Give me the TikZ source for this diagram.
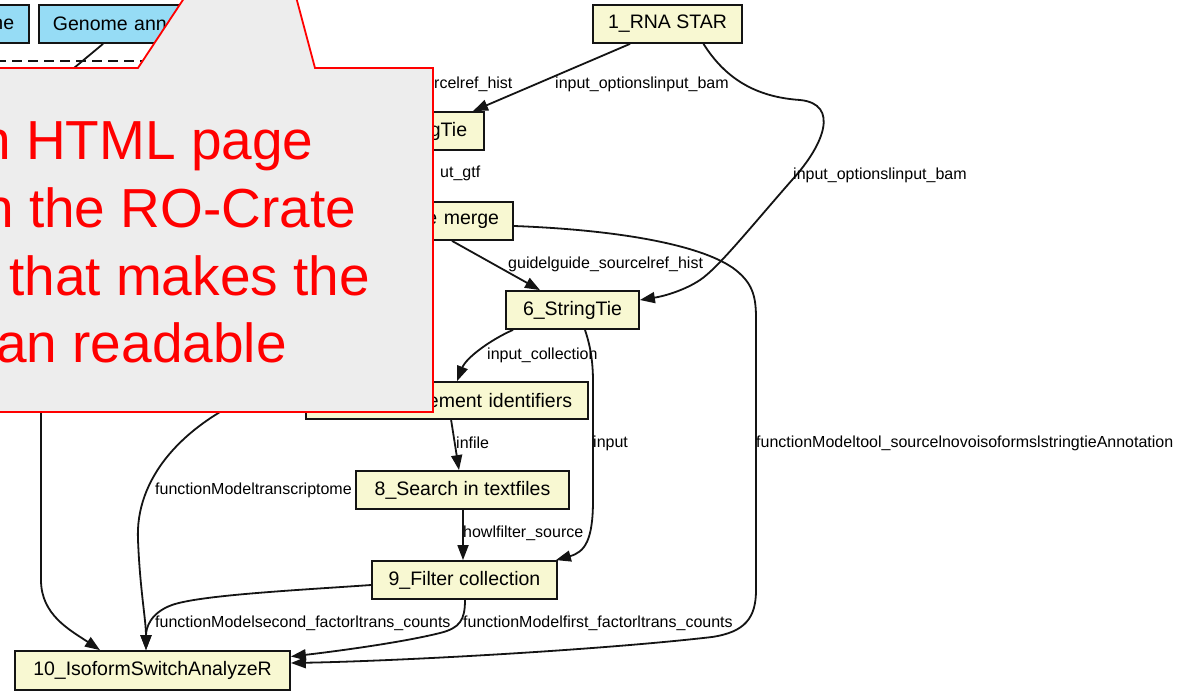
\documentclass[tikz,border=0pt]{standalone}
\usepackage{fontspec}
\setmainfont{Liberation Sans}
\usetikzlibrary{arrows.meta}
\definecolor{nodefill}{RGB}{248,248,210}
\definecolor{inputblue}{RGB}{150,220,245}
\definecolor{calloutgrey}{RGB}{237,237,237}
\definecolor{calloutred}{RGB}{255,0,0}
\definecolor{edgeblack}{RGB}{20,20,20}
\newcommand{\nodefont}{\fontsize{19.5}{23}\selectfont}
\newcommand{\lblfont}{\fontsize{16}{19}\selectfont}
\newcommand{\callfont}{\fontsize{55}{66}\selectfont}
\tikzset{
  ybox/.style={draw=edgeblack, line width=1.8pt, fill=nodefill, minimum height=38pt, inner sep=0pt, font=\nodefont},
  bbox/.style={ybox, fill=inputblue},
  elabel/.style={anchor=west, inner sep=0pt, font=\lblfont},
  conn/.style={draw=edgeblack, line width=1.8pt, -{Triangle[length=15pt,width=11pt]}},
  plainconn/.style={draw=edgeblack, line width=1.8pt},
  callout/.style={draw=calloutred, line width=1.8pt, fill=calloutgrey, line join=miter},
  calltext/.style={anchor=base west, inner sep=0pt, text=calloutred, font=\callfont},
}
\begin{document}
\begin{tikzpicture}[x=1pt, y=-1pt]
\useasboundingbox (0,0) rectangle (1182,692);
\clip (0,0) rectangle (1182,692);
\fill[white] (0,0) rectangle (1182,692);

% input cluster (partly hidden)
\draw[edgeblack, line width=1.4pt, dash pattern=on 10pt off 6pt] (-4,61) -- (220,61);
\node[bbox, anchor=east, inner xsep=15pt, text width=40pt, align=right] (ne) at (30,24) {ne};
\node[bbox, anchor=west, inner xsep=14pt, text width=194pt, align=left] (genome) at (38,24) {Genome ann};

% steps
\node[ybox, minimum width=149pt] (rna) at (667.5,24) {1\_RNA STAR};
\node[ybox, anchor=east, inner xsep=17pt, text width=91pt, align=right] (gtie) at (485,131) {gTie};
\node[ybox, anchor=east, inner xsep=14pt, text width=106pt, align=right] (merge) at (514,221) {e merge};
\node[ybox, minimum width=133pt] (six) at (572.5,310) {6\_StringTie};
\node[ybox, anchor=east, inner xsep=16pt, text width=250pt, align=right, minimum height=37pt] (ement) at (589,400.5) {ement identifiers};
\node[ybox, minimum width=213pt] (search) at (462.5,490) {8\_Search in textfiles};
\node[ybox, minimum width=185pt] (filt) at (464.5,580) {9\_Filter collection};
\node[ybox, minimum width=275pt, minimum height=39pt] (iso) at (152.5,670.5) {10\_IsoformSwitchAnalyzeR};

% hidden ends
\coordinate (genomeend) at (50,88);
\coordinate (leftsrc) at (41,350);
\coordinate (tcsrc) at (260,392);

% connectors
\draw[plainconn] ([xshift=65pt]genome.south west) -- (genomeend);
\draw[conn] ([xshift=-37.5pt]rna.south) -- ([xshift=-12pt]gtie.north east);
\draw[conn] ([xshift=36pt]rna.south) .. controls (725,78) and (755,97) .. (800,100)
   .. controls (840,104) and (824,145) .. (792,180)
   .. controls (750,228) and (718,268) .. (700,280)
   .. controls (685,290) and (665,296) .. ([yshift=10pt]six.east);
\draw[conn] ([xshift=-62pt]merge.south east) -- ([xshift=-32.5pt]six.north);
\draw[conn] ([yshift=-5pt]merge.east) .. controls (620,230) and (700,245) .. (733,268)
   .. controls (752,282) and (756,295) .. (756,318) -- (756,590)
   .. controls (756,618) and (745,632) .. (712,637)
   .. controls (600,650) and (400,661) .. ([yshift=7.5pt]iso.east);
\draw[conn] ([xshift=-59.5pt]six.south) .. controls (490,340) and (466,358) .. ([xshift=10pt]ement.north);
\draw[conn] ([xshift=12.5pt]six.south) .. controls (590,345) and (593,360) .. (593,382) -- (593,500)
   .. controls (593,540) and (585,552) .. ([xshift=-2pt]filt.north east);
\draw[conn] ([xshift=4pt]ement.south) -- ([xshift=-3.5pt]search.north);
\draw[conn] ([xshift=0.5pt]search.south) -- ([xshift=-1.5pt]filt.north);
\draw[conn] ([xshift=0.5pt]filt.south) .. controls (465,620) and (460,628) .. (440,633)
   .. controls (400,643) and (330,652) .. ([yshift=14pt]iso.east);
\draw[conn] ([yshift=-5pt]filt.west) .. controls (300,590) and (200,595) .. (172,605)
   .. controls (150,613) and (146,628) .. ([xshift=-6.5pt]iso.north);
\draw[conn] (tcsrc) .. controls (180,425) and (135,480) .. (138,540)
   .. controls (140,590) and (146,620) .. ([xshift=-6.5pt]iso.north);
\draw[conn] (leftsrc) -- (41,580) .. controls (41,615) and (70,630) .. ([xshift=-52.5pt]iso.north);

% connector labels
\node[elabel] (l1) at (434,84) {rcelref\_hist};
\node[elabel] (l2) at (555,84) {input\_optionslinput\_bam};
\node[elabel] (l3) at (440,173) {ut\_gtf};
\node[elabel] (l4) at (793,175) {input\_optionslinput\_bam};
\node[elabel] (l5) at (508,264) {guidelguide\_sourcelref\_hist};
\node[elabel] (l6) at (487,355) {input\_collection};
\node[elabel] (l7) at (756,443) {functionModeltool\_sourcelnovoisoformslstringtieAnnotation};
\node[elabel] (l8) at (456,443) {infile};
\node[elabel] (l9) at (593,443) {input};
\node[elabel] (l10) at (155,490) {functionModeltranscriptome};
\node[elabel] (l11) at (463,533) {howlfilter\_source};
\node[elabel] (l12) at (155,623) {functionModelsecond\_factorltrans\_counts};
\node[elabel] (l13) at (463,623) {functionModelfirst\_factorltrans\_counts};

% callout
\draw[callout] (-10,68) -- (138,68) -- (264,-123) -- (315,68) -- (433,68) -- (433,412) -- (-10,412) -- cycle;
\node[calltext] (c1) at (-20,160) {n HTML page};
\node[calltext] (c2) at (-17,228) {n the RO-Crate};
\node[calltext] (c3) at (9,295) {that makes the};
\node[calltext] (c4) at (-4,362) {an readable};
\end{tikzpicture}
\end{document}
